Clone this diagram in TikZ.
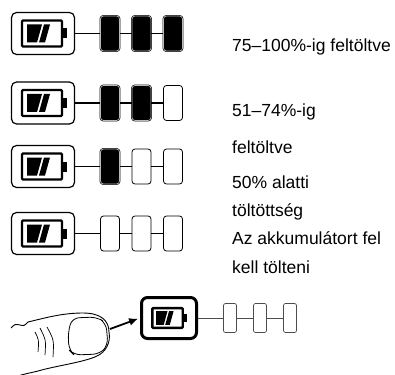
\documentclass[tikz,border=0pt]{standalone}
\usepackage{fontspec}
\setmainfont{Liberation Sans}
\usepackage{tikz}
\usetikzlibrary{arrows.meta, positioning}

\tikzset{
	gauge/.style={draw, line width=1.2pt, rounded corners=5pt, minimum width=63pt, minimum height=42pt, inner sep=0pt},
	cellfull/.style={draw=black, fill=black, double=gray!55, double distance=0.7pt, line width=0.6pt, rounded corners=3pt, minimum width=19pt, minimum height=35pt, inner sep=0pt},
	cellempty/.style={draw, fill=white, line width=0.8pt, rounded corners=3pt, minimum width=19pt, minimum height=35pt, inner sep=0pt},
	smallcell/.style={draw=gray!60!black, fill=white, line width=0.7pt, rounded corners=2pt, minimum width=13pt, minimum height=29pt, inner sep=0pt},
	link/.style={line width=1.2pt},
	label/.style={anchor=base west, inner sep=0pt, font=\fontsize{17.5}{21}\selectfont},
	pics/cellicon/.style={code={
		\draw[line width=2.4pt, rounded corners=1pt] (-20,-13) rectangle (20,13);
		\fill (20,-5) rectangle (25,5);
		\fill (-15,-9) -- (0,-9) -- (-5,9) -- (-15,9) -- cycle;
		\fill (2,-9) -- (8,-9) -- (3,9) -- (-3,9) -- cycle;
	}},
}

\begin{document}
\begin{tikzpicture}[x=1pt, y=-1pt]
	\useasboundingbox (0,0) rectangle (395,374);

	% charge levels, full cells first
	\foreach \r/\y/\n in {1/33.5/3, 2/103/2, 3/166.5/1, 4/233.5/0} {
		\node[gauge] (box\r) at (43,\y) {};
		\pic at ([xshift=-1pt]box\r.center) {cellicon};
		\foreach \k in {1,2,3} {
			\ifnum\k>\n
				\node[cellempty] (c\r\k) at ({78.5+31.5*\k},\y) {};
			\else
				\node[cellfull] (c\r\k) at ({78.5+31.5*\k},\y) {};
			\fi
		}
		\draw[link] (box\r) -- (c\r1) -- (c\r2) -- (c\r3);
	}

	\node[label] (t1) at (232,51.7) {75–100\%-ig feltöltve};
	\node[label] (t2) at (232,116.7) {51–74\%-ig};
	\node[label] (t3) at (232,153) {feltöltve};
	\node[label] (t4) at (232,188) {50\% alatti};
	\node[label] (t5) at (232,216.7) {töltöttség};
	\node[label] (t6) at (232,244) {Az akkumulátort fel};
	\node[label] (t7) at (232,273) {kell tölteni};

	% press the button
	\node[draw, line width=3pt, rounded corners=6pt, minimum width=55pt, minimum height=41pt, inner sep=0pt] (box5) at (169,318) {};
	\pic[scale=0.76] at (167.5,318) {cellicon};
	\node[smallcell] (s1) at (230,318) {};
	\node[smallcell] (s2) at (260,318) {};
	\node[smallcell] (s3) at (290,318) {};
	\draw[draw=gray!60!black, line width=0.8pt] (box5) -- (s1) -- (s2) -- (s3);

	% thumb
	\draw[line width=0.9pt, line join=round]
		(11,328) .. controls (15,324) .. (20,325)
		.. controls (24,326) .. (28,322) .. controls (45,318) and (62,313) .. (83,313)
		.. controls (100,313) and (109,320) .. (109,332) .. controls (111,342) and (106,352) .. (97,356)
		.. controls (85,362) and (55,366) .. (38,371) .. controls (30,373) and (24,374) .. (18,376);
	\draw[line width=0.8pt, rounded corners=7pt]
		(68,333) -- (72,318) -- (97,317) -- (106,323) -- (108,345) -- (100,354) -- (74,355) -- (69,350) -- cycle;
	\draw[line width=0.7pt] (35,332) .. controls (39,340) .. (38,352);
	\draw[line width=0.7pt] (40,328) .. controls (46,340) .. (45,355);
	\draw[line width=0.7pt] (47,327) .. controls (54,340) .. (53,357);

	\coordinate (tail) at (110,329);
	\draw[line width=1.8pt, -{Latex[length=9pt, width=8pt]}, shorten >=2pt] (tail) -- (box5.west);
\end{tikzpicture}
\end{document}
